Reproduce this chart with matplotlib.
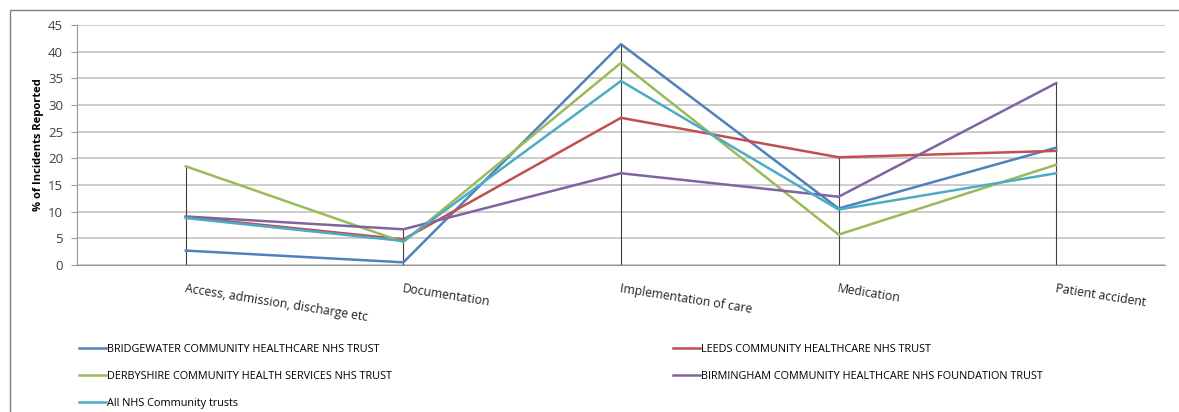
import numpy as np
import matplotlib.pyplot as plt
from matplotlib.patches import Rectangle

# --- data
categories = ['Access, admission, discharge etc', 'Documentation', 'Implementation of care',
              'Medication', 'Patient accident']

bridgewater = [2.7, 0.5, 41.4, 10.6, 22.0]
leeds = [9.0, 4.8, 27.6, 20.2, 21.4]
derbyshire = [18.5, 4.3, 37.9, 5.7, 18.8]
birmingham = [9.1, 6.7, 17.2, 12.8, 34.1]
all_trusts = [8.8, 4.5, 34.5, 10.4, 17.2]

series_names = ['BRIDGEWATER COMMUNITY HEALTHCARE NHS TRUST',
                'LEEDS COMMUNITY HEALTHCARE NHS TRUST',
                'DERBYSHIRE COMMUNITY HEALTH SERVICES NHS TRUST',
                'BIRMINGHAM COMMUNITY HEALTHCARE NHS FOUNDATION TRUST',
                'All NHS Community trusts']
series_values = [bridgewater, leeds, derbyshire, birmingham, all_trusts]
series_colors = ['#4F81BD', '#C0504D', '#9BBB59', '#8064A2', '#4BACC6']

plt.rcParams['font.family'] = ['Open Sans', 'DejaVu Sans']

W, H = 1179, 412
fig = plt.figure(figsize=(W / 100, H / 100), dpi=100)
ax = fig.add_axes([77 / W, 1 - 265 / H, (1165 - 77) / W, 240 / H])

x = np.arange(len(categories))

# drop lines from the highest value down to the axis
tops = np.max(np.array(series_values), axis=0)
ax.vlines(x, 0, tops, color='#404040', linewidth=0.8, zorder=2)

lines = {}
for name, vals, col in zip(series_names, series_values, series_colors):
    lines[name], = ax.plot(x, vals, color=col, linewidth=1.8, zorder=3)

ax.set_xlim(-0.5, len(categories) - 0.5)
ax.set_ylim(0, 45)
ax.set_yticks(np.arange(0, 46, 5))
ax.yaxis.grid(True, color='#C8C8C8', linewidth=1.3)
ax.set_axisbelow(True)
ax.tick_params(axis='y', labelsize=9.5, colors='#404040', length=4, color='#999999', pad=6)
ax.tick_params(axis='x', length=0, pad=12)
ax.set_xticks(x)
ax.set_xticklabels(categories, rotation=-9, ha='left', va='top', rotation_mode='anchor',
                   fontsize=8.8, color='#222222')
for s in ['top', 'right']:
    ax.spines[s].set_visible(False)
ax.spines['left'].set_color('#999999')
ax.spines['bottom'].set_color('#999999')
ax.set_ylabel('% of Incidents Reported', fontsize=8, fontweight='bold', labelpad=3)

# outer frame (only left and top edges visible)
fig.patches.append(Rectangle((10 / W, -0.1), 1.2, 1 - 10 / H + 0.1, transform=fig.transFigure,
                             fill=False, edgecolor='#7F7F7F', linewidth=1.0))

left_names = [series_names[0], series_names[2], series_names[4]]
right_names = [series_names[1], series_names[3]]
leg_kw = dict(frameon=False, fontsize=7.8, handlelength=2.5, handletextpad=0.1,
              labelspacing=1.48, loc='upper left')
fig.legend([lines[n] for n in left_names], left_names,
           bbox_to_anchor=(69 / W, 1 - 334 / H), **leg_kw)
fig.legend([lines[n] for n in right_names], right_names,
           bbox_to_anchor=(663 / W, 1 - 334 / H), **leg_kw)

fig.savefig('out.png', dpi=100)
